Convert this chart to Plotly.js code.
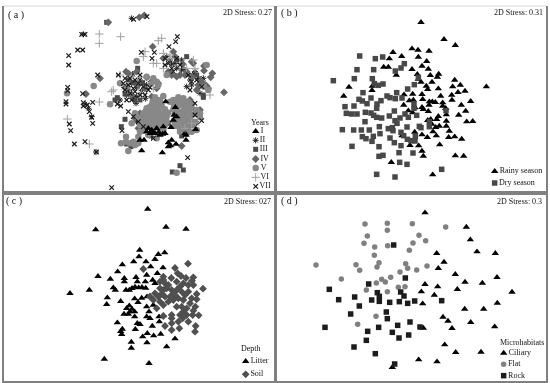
<!DOCTYPE html>
<html><head><meta charset="utf-8">
<script src="https://cdn.plot.ly/plotly-3.0.1.min.js"></script>
<style>html,body{margin:0;padding:0;background:#fff}#c{width:550px;height:383px;filter:blur(0.4px)}</style>
</head><body><div id="c"></div>
<script>
const a_I=[[497,305],[526,322],[522,345],[520,360],[513,382],[587,388],[558,420],[558,405],[455,390],[470,385],[490,380],[465,400],[480,405],[495,400],[420,420],[432,420],[425,452],[487,458],[515,420],[512,437],[528,432],[505,440],[450,400],[445,385],[555,400],[530,350],[505,428],[440,395],[458,398],[476,396],[488,402]];
const a_II=[[395,55],[250,103],[395,250],[410,262],[425,272],[385,270],[400,290],[380,285],[440,255],[420,240],[410,290],[275,350],[265,325],[255,312],[288,456],[510,180],[530,205],[545,180],[570,240],[595,235],[410,365],[430,350],[455,410],[590,370],[360,300],[420,375],[398,222],[436,296],[452,244],[372,262],[408,310],[515,192],[552,208],[582,222],[560,260],[500,170],[525,190],[545,210],[585,215],[610,235],[600,280],[575,255]];
const a_III=[[320,67],[560,170],[352,293],[345,300],[610,285],[610,292],[375,358],[364,380],[380,432],[393,440],[413,205],[540,497],[517,516],[550,510],[545,408],[462,297],[405,300],[385,240],[590,225],[530,180],[505,370],[450,370],[560,330],[540,340],[402,248],[375,282],[428,248],[420,300],[535,300],[570,325]];
const a_IV=[[325,67],[418,52],[433,46],[458,140],[490,175],[612,198],[637,220],[672,277],[300,235],[258,282],[520,155],[515,225],[575,185],[600,240],[625,265],[545,438],[410,215],[378,215],[540,225],[560,215],[610,250],[470,265],[455,290],[580,190],[540,300],[570,300],[420,340],[405,355],[415,385],[600,330],[560,385],[530,315],[385,220],[440,232],[475,250],[590,270],[530,230],[605,245],[620,258],[575,230],[555,225],[395,285],[435,265],[415,255],[505,215],[525,170],[548,192],[595,255],[632,232],[612,212]];
const a_V=[[410,183],[281,258],[330,313],[201,280],[385,453],[363,430],[378,410],[405,435],[530,518],[620,195],[440,230],[460,235],[470,245],[455,250],[475,255],[360,250],[380,260],[520,300],[535,292],[550,295],[565,305],[530,310],[545,315],[560,320],[575,325],[590,330],[600,340],[530,325],[545,335],[560,340],[575,345],[525,340],[540,350],[555,355],[570,360],[585,365],[535,365],[550,372],[565,378],[525,375],[540,385],[575,395],[440,325],[455,315],[470,310],[485,318],[495,328],[430,340],[445,335],[460,330],[475,330],[490,340],[500,350],[425,355],[440,350],[455,348],[470,345],[485,352],[500,365],[435,365],[450,362],[465,360],[480,365],[495,375],[420,375],[435,378],[455,375],[470,372],[490,390],[405,340],[400,425],[415,430],[378,425],[420,395],[445,405],[470,415],[560,400],[590,390],[395,370],[490,288],[500,225],[480,300],[465,292],[612,260],[625,270],[448,322],[463,322],[478,322],[438,332],[452,342],[467,338],[482,342],[438,358],[462,352],[478,358],[425,365],[445,370],[488,368],[505,338],[540,305],[555,305],[522,315],[552,328],[568,332],[585,342],[600,352],[520,328],[532,338],[550,345],[565,350],[530,355],[548,362],[562,368],[578,375],[522,362],[530,378],[555,385],[510,305],[575,312],[458,305],[410,350],[462,385],[480,385],[430,392],[415,410],[390,430],[550,395],[540,395]];
const a_VI=[[298,102],[362,110],[298,130],[485,115],[475,122],[435,155],[430,170],[490,160],[460,190],[470,190],[490,205],[580,180],[585,205],[340,270],[335,275],[298,306],[202,357],[268,432],[360,225],[630,285],[510,175],[560,205],[460,265],[395,230],[510,165],[575,370],[555,385],[425,280]];
const a_VII=[[401,58],[441,50],[245,103],[255,103],[532,110],[527,125],[507,140],[233,150],[248,150],[206,167],[206,195],[424,157],[463,157],[456,175],[293,225],[203,262],[203,272],[248,281],[198,305],[198,312],[250,308],[250,318],[262,315],[278,307],[268,335],[275,352],[278,370],[208,372],[212,392],[223,432],[255,425],[289,456],[563,473],[335,563],[605,362],[585,345],[355,225],[352,312],[362,318],[385,335],[375,235],[390,235],[405,240],[420,225],[370,250],[385,255],[400,265],[415,250],[430,260],[445,270],[375,270],[390,280],[405,275],[420,285],[435,285],[395,300],[380,300],[450,262],[495,175],[505,190],[515,205],[530,175],[540,195],[565,225],[575,245],[590,240],[605,260],[570,270],[495,195],[520,215],[430,380],[415,365],[400,350],[366,392],[585,310],[460,415]];
const b_Rainy=[[438,67],[507,118],[541,136],[411,146],[429,150],[462,153],[354,157],[343,176],[380,169],[430,171],[455,184],[441,198],[460,207],[411,208],[326,201],[340,201],[364,225],[427,223],[466,226],[491,222],[487,231],[539,240],[556,255],[634,260],[222,261],[292,258],[291,271],[206,288],[430,237],[438,246],[454,258],[458,268],[490,266],[471,246],[533,260],[549,277],[570,273],[530,285],[497,288],[387,284],[413,282],[441,283],[403,302],[415,300],[443,298],[463,305],[472,305],[481,307],[503,308],[531,300],[587,304],[559,315],[572,333],[551,345],[575,365],[593,364],[512,325],[503,318],[462,315],[441,322],[420,323],[445,328],[400,332],[413,338],[386,315],[460,334],[490,349],[467,358],[458,361],[485,358],[514,344],[514,363],[514,378],[470,372],[493,378],[482,382],[523,393],[474,395],[419,396],[441,404],[457,412],[484,407],[521,412],[539,410],[560,417],[381,407],[405,436],[431,437],[494,434],[441,453],[445,468],[541,467],[566,468],[349,487],[473,524]];
const b_Dry=[[254,168],[301,176],[323,171],[388,191],[378,204],[361,213],[246,209],[296,209],[238,236],[175,242],[292,236],[298,251],[310,256],[324,252],[264,278],[365,278],[398,267],[418,254],[430,232],[336,288],[345,293],[361,296],[381,294],[288,294],[252,298],[262,303],[318,302],[306,312],[305,325],[276,311],[210,320],[237,318],[214,340],[230,342],[246,342],[271,337],[288,339],[296,346],[305,352],[320,354],[343,348],[358,333],[375,354],[390,342],[400,352],[425,346],[417,312],[417,325],[513,332],[270,365],[360,362],[202,389],[236,390],[259,390],[283,390],[313,380],[315,401],[340,386],[352,383],[354,392],[366,370],[396,381],[378,397],[386,407],[433,379],[438,383],[463,380],[463,365],[262,410],[273,416],[295,409],[291,424],[345,414],[358,428],[378,437],[397,418],[408,422],[420,423],[421,410],[231,439],[312,440],[372,458],[414,459],[312,469],[324,466],[374,487],[396,493],[500,508],[305,523],[360,531]];
const c_Litter=[[443,57],[287,119],[498,111],[558,117],[419,180],[417,200],[475,193],[494,188],[465,208],[401,215],[438,215],[367,224],[452,230],[489,233],[353,245],[294,259],[331,267],[373,265],[373,275],[408,262],[440,255],[472,250],[412,275],[436,275],[340,293],[346,300],[268,300],[210,310],[378,300],[388,300],[396,295],[405,291],[416,293],[426,292],[437,294],[458,270],[465,280],[322,323],[320,343],[362,334],[404,326],[425,324],[414,337],[441,320],[450,318],[388,347],[380,355],[396,357],[404,365],[372,372],[385,372],[404,380],[390,365],[440,350],[447,365],[440,380],[450,385],[460,345],[477,380],[490,377],[478,395],[352,398],[412,400],[420,403],[457,408],[367,417],[362,424],[365,433],[406,418],[442,430],[428,440],[461,437],[482,432],[525,446],[394,456],[441,458],[394,474],[500,470],[313,507],[447,520]];
const c_Soil=[[564,221],[430,237],[525,234],[533,250],[543,258],[558,264],[580,262],[576,272],[514,264],[490,260],[490,270],[495,280],[505,285],[530,275],[550,280],[565,285],[580,285],[609,296],[590,312],[590,328],[586,350],[580,362],[596,376],[578,375],[480,295],[490,300],[485,312],[475,320],[500,295],[515,300],[520,310],[530,300],[545,305],[555,315],[565,305],[550,330],[535,325],[520,330],[510,320],[495,320],[480,335],[490,345],[470,355],[450,320],[460,330],[530,350],[545,350],[560,355],[550,365],[560,375],[540,375],[515,375],[515,385],[535,395],[548,385],[565,395],[515,400],[495,408],[515,420],[538,415],[587,408],[585,425],[465,310],[490,378],[505,335],[525,315],[540,290],[575,325],[570,340],[480,275]];
const d_Ciliary=[[450,68],[574,111],[586,149],[606,185],[661,190],[485,190],[507,216],[490,235],[541,253],[666,262],[570,276],[622,279],[450,283],[488,290],[547,298],[439,305],[711,306],[478,315],[443,341],[667,339],[569,357],[626,357],[504,381],[519,393],[587,397],[531,415],[445,414],[659,410],[509,464],[542,487],[618,486],[431,509],[486,515],[352,532]];
const d_Flat=[[270,102],[337,100],[412,101],[512,111],[337,121],[432,136],[277,138],[267,160],[299,171],[338,167],[414,159],[452,152],[403,181],[298,196],[312,218],[392,221],[456,228],[123,225],[243,224],[254,241],[306,231],[398,235],[425,240],[375,246],[199,267],[347,262],[320,268],[331,276],[304,279],[274,300],[370,292],[390,290],[337,305],[303,379],[248,403]];
const d_Rock=[[356,165],[391,264],[281,282],[163,298],[307,308],[377,306],[313,319],[387,318],[239,321],[191,329],[290,330],[313,334],[344,337],[373,335],[398,340],[419,333],[500,332],[253,348],[334,366],[227,372],[337,386],[405,396],[150,412],[311,412],[368,406],[435,411],[278,424],[352,427],[401,435],[372,444],[274,451],[237,471],[301,491],[359,522]];

const stressLabels=["2D Stress: 0.27","2D Stress: 0.31","2D Stress: 027","2D Stress: 0.3"];
const panelLabels=["( a )","( b )","( c )","( d )"];
const legendTitles=["Years","","Depth","Microhabitats"];
const yearNames=["I","II","III","IV","V","VI","VII"];
const seasonNames=["Rainy season","Dry season"];
const depthNames=["Litter","Soil"];
const habitatNames=["Ciliary","Flat","Rock"];

const FONT="'Liberation Serif','Times New Roman',serif";
const TXT='#111';
const st={
 tri:{symbol:'triangle-up',size:6.5,color:'#000'},
 tri2:{symbol:'triangle-up',size:6.5,color:'#000'},
 star:{symbol:'asterisk-open',size:5,color:'#222',line:{color:'#222',width:1}},
 sq:{symbol:'square',size:5,color:'#4a4a4a'},
 sqD:{symbol:'square',size:5.5,color:'#484848'},
 sqK:{symbol:'square',size:5.5,color:'#1c1c1c'},
 dia:{symbol:'diamond',size:6,color:'#666'},
 dia2:{symbol:'diamond',size:6,color:'#505050'},
 circ:{symbol:'circle',size:6.5,color:'#888'},
 circ2:{symbol:'circle',size:5.5,color:'#808080'},
 plus:{symbol:'cross-thin-open',size:6,color:'#a0a0a0',line:{color:'#a0a0a0',width:1}},
 x:{symbol:'x-thin-open',size:4.5,color:'#1a1a1a',line:{color:'#1a1a1a',width:1.2}}
};
const frames=[
 {xa:'x',ya:'y',x:[4,274],y:[6,193],rx:[12,822],ry:[579,18]},
 {xa:'x2',ya:'y2',x:[277,546],y:[6,193],rx:[6,813],ry:[579,18]},
 {xa:'x3',ya:'y3',x:[4,274],y:[193,381],rx:[12,822],ry:[573,9]},
 {xa:'x4',ya:'y4',x:[277,546],y:[193,381],rx:[6,813],ry:[573,9]}
];
const W=550,H=383;
const traces=[];
function pts(i,arr,m){traces.push({type:'scatter',mode:'markers',xaxis:frames[i].xa,yaxis:frames[i].ya,
 x:arr.map(p=>p[0]),y:arr.map(p=>p[1]),marker:m,showlegend:false,hoverinfo:'skip',cliponaxis:false});}
pts(0,a_II,st.star);pts(0,a_III,st.sq);pts(0,a_IV,st.dia);pts(0,a_V,st.circ);pts(0,a_I,st.tri);pts(0,a_VI,st.plus);pts(0,a_VII,st.x);
pts(1,b_Rainy,st.tri2);pts(1,b_Dry,st.sqD);
pts(2,c_Litter,st.tri2);pts(2,c_Soil,st.dia2);
pts(3,d_Ciliary,st.tri2);pts(3,d_Flat,st.circ2);pts(3,d_Rock,st.sqK);

function key(i,names,marks,lx,ly){names.forEach((n,k)=>{traces.push({type:'scatter',mode:'markers+text',xaxis:frames[i].xa,yaxis:frames[i].ya,
 x:[lx],y:[ly[k]],text:[n],textposition:'middle right',textfont:{family:FONT,size:8,color:TXT},marker:marks[k],showlegend:false,hoverinfo:'skip',cliponaxis:false});});}
key(0,yearNames,[st.tri,st.star,st.sq,st.dia,st.circ,st.plus,st.x],767,[394,421,448,477,504,532,559]);
key(1,seasonNames,[st.tri2,st.sqD],659,[514,549]);
key(2,depthNames,[st.tri2,st.dia2],737,[514,553]);
key(3,habitatNames,[st.tri2,st.circ2,st.sqK],686,[489,523,557]);

const layout={width:W,height:H,margin:{l:0,r:0,t:0,b:0},paper_bgcolor:'#fff',plot_bgcolor:'#fff',showlegend:false,
 font:{family:FONT,color:TXT},annotations:[],shapes:[]};
const legendAnchors=[[781,368],null,[754,475],[675,457]];
const stressY=[37,37,33,35],stressX=[816,803,813,801],labelX=[49,42,43,43],labelY=[44,40,34,34];
frames.forEach((f,i)=>{
 const s=i?String(i+1):'';
 const ax={showgrid:false,zeroline:false,showticklabels:false,ticks:'',fixedrange:true,showline:true,linecolor:'#808080',linewidth:2};
 layout['xaxis'+s]=Object.assign({},ax,{domain:[f.x[0]/W,f.x[1]/W],range:f.rx,anchor:'y'+s,mirror:i>1});
 layout['yaxis'+s]=Object.assign({},ax,{domain:[1-f.y[1]/H,1-f.y[0]/H],range:f.ry,anchor:'x'+s,mirror:true});
 if(i<2)layout.shapes.push({type:'line',xref:'paper',yref:'paper',x0:f.x[0]/W,x1:f.x[1]/W,y0:1-f.y[0]/H,y1:1-f.y[0]/H,line:{color:'#d8d8d8',width:1}});
 const ann=(x,y,text,anc,size)=>layout.annotations.push({xref:f.xa,yref:f.ya,x,y,text,xanchor:anc,yanchor:'middle',showarrow:false,
   font:{family:FONT,size,color:TXT},borderpad:0,borderwidth:0});
 ann(stressX[i],stressY[i],stressLabels[i],'right',8);
 ann(labelX[i],labelY[i],panelLabels[i],'center',10);
 if(legendAnchors[i])ann(legendAnchors[i][0],legendAnchors[i][1],legendTitles[i],i==3?'left':'center',8);
});
Plotly.newPlot('c',traces,layout,{displayModeBar:false,staticPlot:true});
</script></body></html>
